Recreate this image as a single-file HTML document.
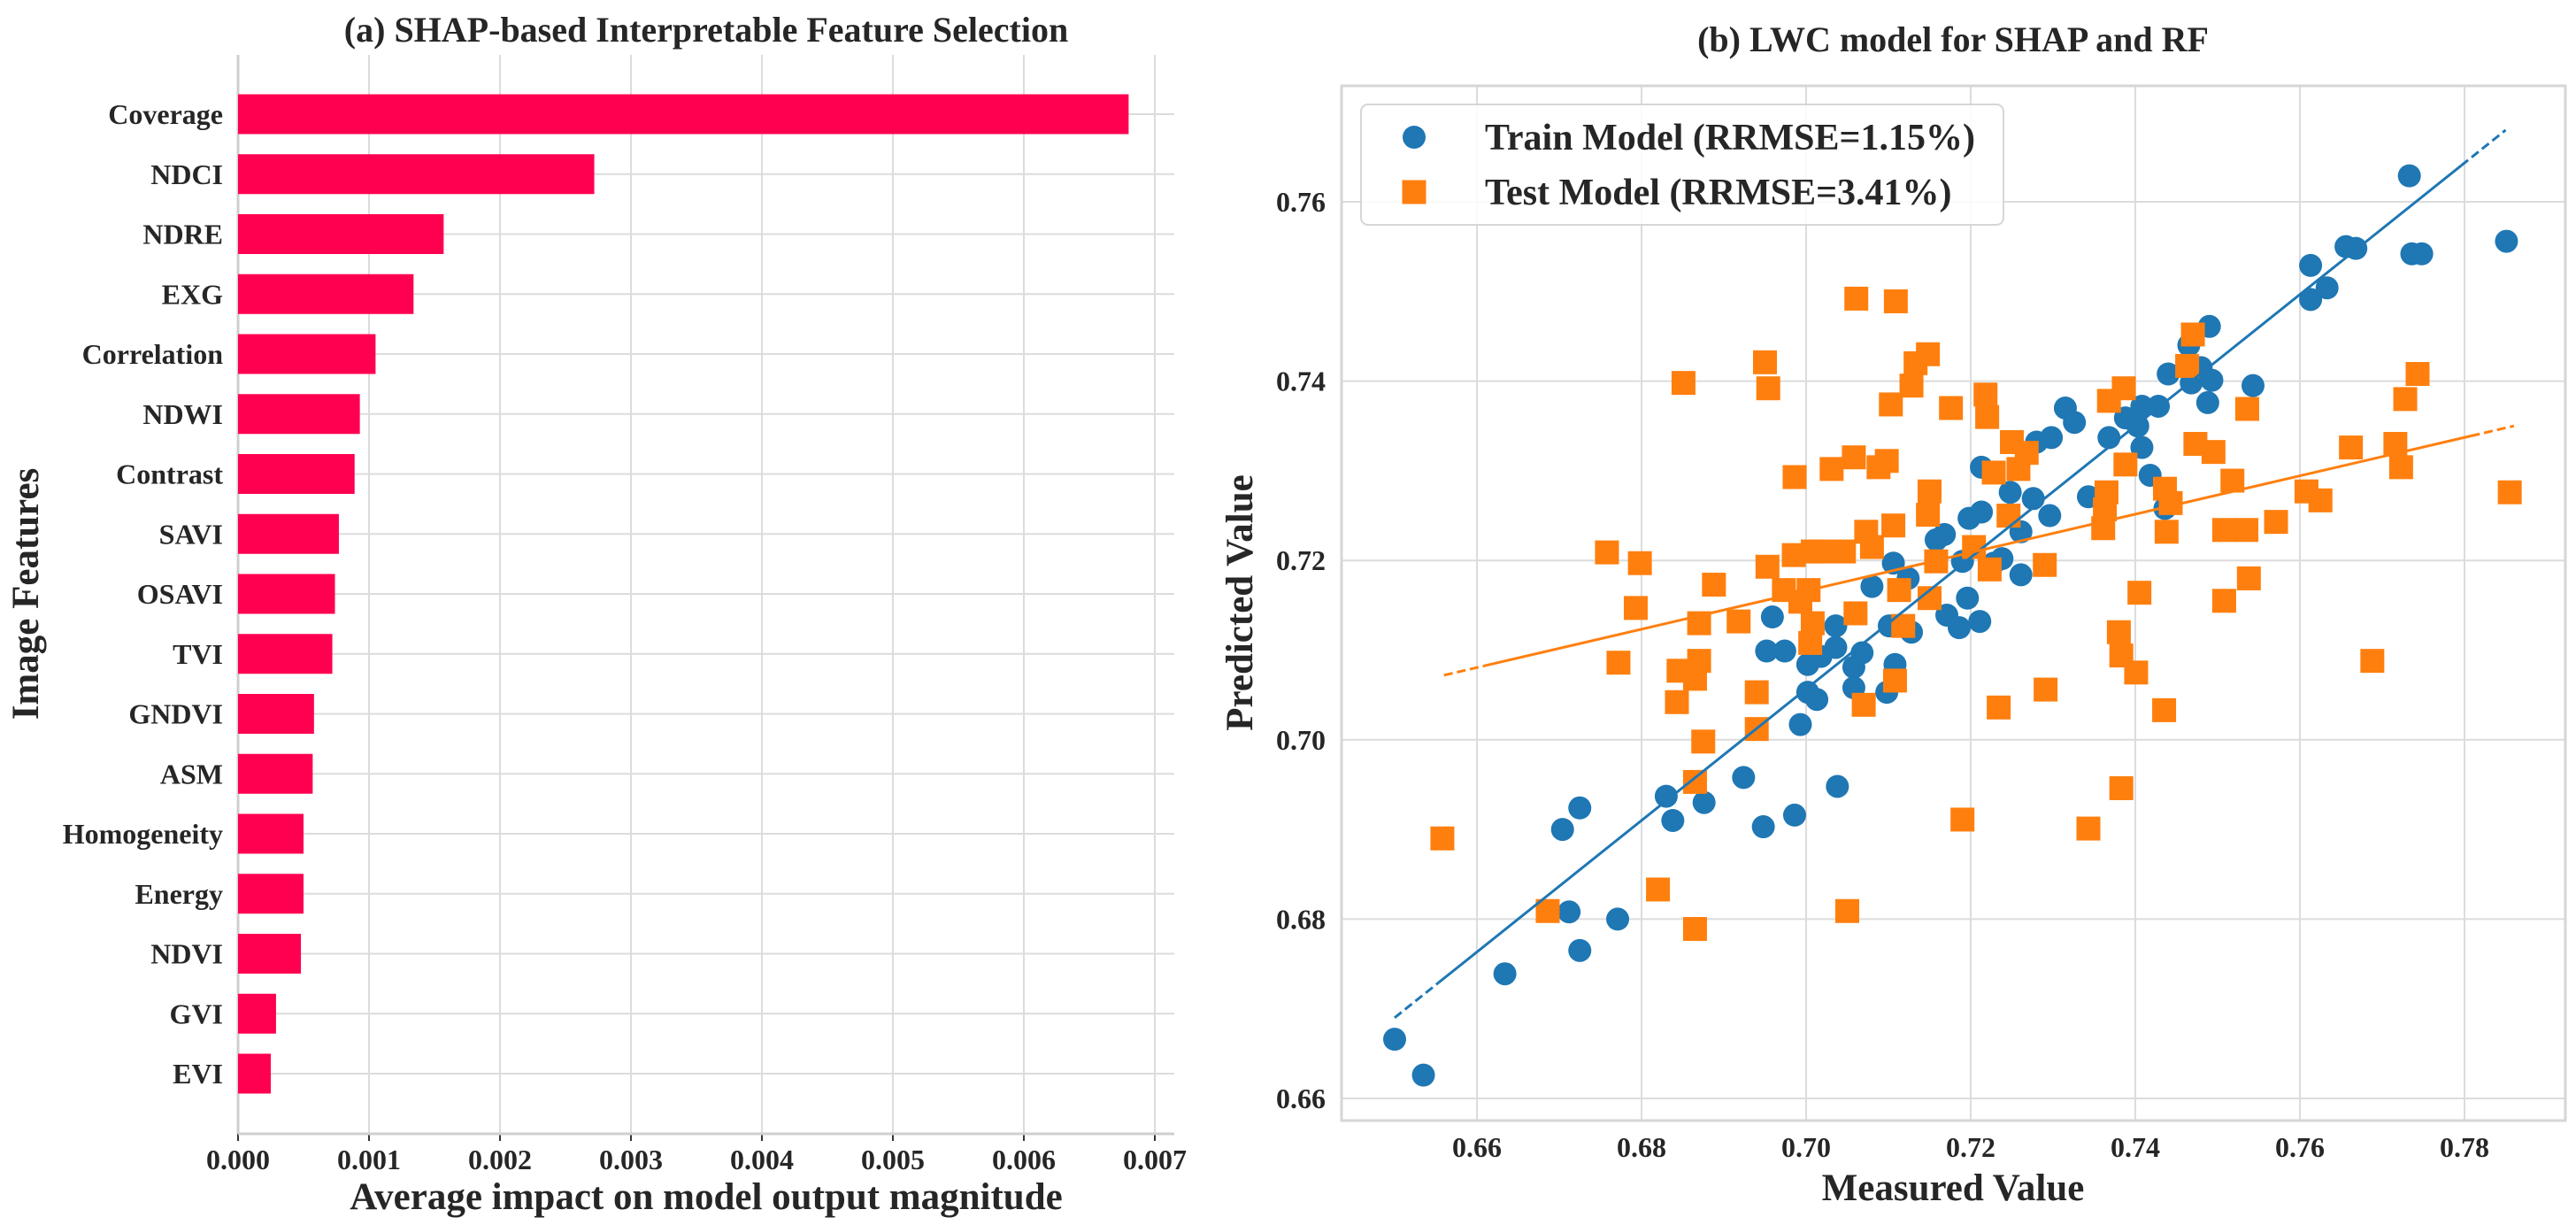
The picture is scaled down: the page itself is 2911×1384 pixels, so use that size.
<!DOCTYPE html>
<html><head><meta charset="utf-8">
<style>
html,body{margin:0;padding:0;background:#fff;}
svg{display:block;font-family:"Liberation Serif","DejaVu Serif",serif;font-weight:bold;}
</style></head>
<body>
<svg id="chart" width="2911" height="1384" viewBox="0 0 2911 1384" xmlns="http://www.w3.org/2000/svg">
<g id="left"></g>
<g id="right"></g>
</svg>
<script>
const features = ["Coverage","NDCI","NDRE","EXG","Correlation","NDWI","Contrast","SAVI","OSAVI","TVI","GNDVI","ASM","Homogeneity","Energy","NDVI","GVI","EVI"];
const shapValues = [0.0068,0.00272,0.00157,0.00134,0.00105,0.00093,0.00089,0.00077,0.00074,0.00072,0.00058,0.00057,0.0005,0.0005,0.00048,0.00029,0.00025];
const xTicksLeft = [0,0.001,0.002,0.003,0.004,0.005,0.006,0.007];
const xTickLabelsLeft = ["0.000","0.001","0.002","0.003","0.004","0.005","0.006","0.007"];

const trainX = [0.650,0.6535,0.6634,0.6704,0.6725,0.6712,0.6725,0.6771,0.683,0.6838,0.6876,0.6924,0.6948,0.6986,0.7038,0.6993,0.6959,0.6952,0.6974,0.7002,0.7013,0.7002,0.7018,0.7036,0.7036,0.7058,0.7058,0.7098,0.7108,0.7101,0.7106,0.708,0.7124,0.7128,0.7158,0.7168,0.7171,0.7186,0.7196,0.7211,0.7198,0.7213,0.7228,0.7213,0.7248,0.7261,0.7261,0.7276,0.728,0.7296,0.7298,0.7315,0.7326,0.7343,0.7368,0.7388,0.7403,0.7408,0.7408,0.7418,0.7428,0.7436,0.744,0.7465,0.7468,0.748,0.749,0.7488,0.7493,0.7543,0.7613,0.7613,0.7633,0.7656,0.7668,0.7733,0.7736,0.7748,0.7851,0.7068,0.7238,0.719];
const trainY = [0.6666,0.6626,0.6739,0.690,0.6924,0.6808,0.6765,0.680,0.6937,0.691,0.693,0.6958,0.6903,0.6916,0.6948,0.7017,0.7137,0.7099,0.7099,0.7053,0.7045,0.7084,0.7093,0.7127,0.7103,0.7081,0.7058,0.7053,0.7084,0.7127,0.7197,0.7171,0.7180,0.7120,0.7223,0.7229,0.7139,0.7125,0.7158,0.7132,0.7247,0.7254,0.7197,0.7304,0.7276,0.7184,0.7232,0.7269,0.7332,0.725,0.7337,0.737,0.7354,0.7271,0.7337,0.7359,0.735,0.7372,0.7326,0.7295,0.7372,0.7258,0.7408,0.744,0.7398,0.7415,0.7461,0.7376,0.7401,0.7395,0.7529,0.7491,0.7504,0.755,0.7548,0.7629,0.7542,0.7542,0.7556,0.7097,0.7202,0.7199];
const testX = [0.6558,0.6686,0.682,0.6865,0.6865,0.6875,0.6843,0.6845,0.6865,0.687,0.687,0.6772,0.6793,0.6758,0.6798,0.6851,0.6888,0.6918,0.694,0.694,0.6953,0.695,0.6954,0.6973,0.6985,0.6986,0.6993,0.7003,0.7008,0.7018,0.7008,0.7005,0.7031,0.7046,0.7058,0.7061,0.706,0.707,0.7073,0.708,0.7088,0.7098,0.7103,0.7109,0.7106,0.7108,0.7113,0.7118,0.7128,0.7133,0.7148,0.7148,0.715,0.7158,0.715,0.7176,0.7204,0.7218,0.722,0.7223,0.7228,0.7234,0.7246,0.725,0.7258,0.7268,0.719,0.729,0.7291,0.7343,0.7368,0.7365,0.7363,0.7361,0.7386,0.7388,0.738,0.7383,0.7383,0.7401,0.7405,0.7435,0.7436,0.7443,0.7438,0.7463,0.747,0.7473,0.7495,0.7518,0.7508,0.7535,0.7508,0.7536,0.7538,0.7571,0.7608,0.7625,0.7662,0.7688,0.7716,0.7723,0.7728,0.7743,0.7855,0.705];
const testY = [0.689,0.6809,0.6833,0.6789,0.6953,0.6998,0.7042,0.7077,0.7068,0.7088,0.713,0.7086,0.7147,0.7209,0.7197,0.7398,0.7173,0.7132,0.7053,0.7012,0.7193,0.7421,0.7392,0.7167,0.7206,0.7293,0.7154,0.7167,0.721,0.721,0.713,0.7108,0.7302,0.721,0.7315,0.7492,0.7141,0.7039,0.7232,0.7215,0.7304,0.7311,0.7374,0.7489,0.7239,0.7066,0.7167,0.7127,0.7395,0.742,0.743,0.7251,0.7277,0.7199,0.7158,0.737,0.7215,0.7385,0.736,0.719,0.7298,0.7036,0.725,0.7332,0.7302,0.732,0.6911,0.7195,0.7056,0.6901,0.7378,0.7276,0.7257,0.7236,0.7392,0.7307,0.712,0.7094,0.6946,0.7075,0.7164,0.7033,0.728,0.7264,0.7232,0.7417,0.7452,0.733,0.7321,0.7289,0.7234,0.7234,0.7155,0.7369,0.718,0.7243,0.7277,0.7267,0.7326,0.7088,0.733,0.7304,0.738,0.7408,0.7276,0.6809];
const trainFitX = [0.650,0.785];
const trainFitY = [0.669,0.768];
const testFitX = [0.656,0.786];
const testFitY = [0.7072,0.735];
const xTicksRight = [0.66,0.68,0.70,0.72,0.74,0.76,0.78];
const yTicksRight = [0.66,0.68,0.70,0.72,0.74,0.76];
const legendLabels = ["Train Model (RRMSE=1.15%)","Test Model (RRMSE=3.41%)"];

const NS="http://www.w3.org/2000/svg";
function mk(parent,tag,attrs,text){const e=document.createElementNS(NS,tag);for(const k in attrs)e.setAttribute(k,attrs[k]);if(text!==undefined)e.textContent=text;parent.appendChild(e);return e;}
const GRID="#dcdcdc", BAR="#ff0051", BLUE="#1f77b4", ORANGE="#ff7f0e", TXT="#262626";

// ---- Left chart ----
const L=document.getElementById('left');
const lx0=269, lx1=1327, lyTop=62, lyBot=1281;
const lxs=v=>lx0+v*148000;
const rowY=i=>129+i*67.75;
let t;
t=mk(L,'text',{x:798,y:47,'text-anchor':'middle','font-size':40,fill:TXT},'(a) SHAP-based Interpretable Feature Selection');

xTicksLeft.forEach((v,i)=>{
  const x=lxs(v);
  const g=mk(L,'line',{x1:x,y1:lyTop,x2:x,y2:lyBot,stroke:GRID,'stroke-width':2});
  
  const tk=mk(L,'line',{x1:x,y1:lyBot,x2:x,y2:lyBot+8,stroke:'#333','stroke-width':2});
  
  const lb=mk(L,'text',{x:x,y:lyBot+40,'text-anchor':'middle','font-size':32,fill:TXT},xTickLabelsLeft[i]);
  
});
features.forEach((f,i)=>{
  const y=rowY(i);
  const g=mk(L,'line',{x1:lx0,y1:y,x2:lx1,y2:y,stroke:GRID,'stroke-width':2});
  
});
mk(L,'line',{x1:lx0,y1:lyTop,x2:lx0,y2:lyBot,stroke:'#cfcfcf','stroke-width':3});
mk(L,'line',{x1:lx0,y1:lyBot,x2:lx1,y2:lyBot,stroke:'#cfcfcf','stroke-width':3});
features.forEach((f,i)=>{
  const y=rowY(i);
  const b=mk(L,'rect',{x:lx0,y:y-22.5,width:lxs(shapValues[i])-lx0,height:45,fill:BAR});
  
  
  const lb=mk(L,'text',{x:252,y:y+11,'text-anchor':'end','font-size':32,fill:TXT},f);
  
  
});
t=mk(L,'text',{x:798,y:1366,'text-anchor':'middle','font-size':43,fill:TXT},'Average impact on model output magnitude');

t=mk(L,'text',{x:0,y:0,'text-anchor':'middle','font-size':43,fill:TXT,transform:'translate(43,671) rotate(-90)'},'Image Features');


// ---- Right chart ----
const R=document.getElementById('right');
const rx0=1516, rx1=2899, ryTop=97, ryBot=1266;
const rxs=v=>1669+(v-0.66)*9300;
const rys=v=>1241-(v-0.66)*10130;
t=mk(R,'text',{x:2207,y:58,'text-anchor':'middle','font-size':40,fill:TXT},'(b) LWC model for SHAP and RF');

xTicksRight.forEach(v=>{
  const x=rxs(v);
  const g=mk(R,'line',{x1:x,y1:ryTop,x2:x,y2:ryBot,stroke:GRID,'stroke-width':2});
  
  const lb=mk(R,'text',{x:x,y:1307,'text-anchor':'middle','font-size':32,fill:TXT},v.toFixed(2));
  
});
yTicksRight.forEach(v=>{
  const y=rys(v);
  const g=mk(R,'line',{x1:rx0,y1:y,x2:rx1,y2:y,stroke:GRID,'stroke-width':2});
  
  const lb=mk(R,'text',{x:1498,y:y+11,'text-anchor':'end','font-size':32,fill:TXT},v.toFixed(2));
  
});
const frame=mk(R,'rect',{x:rx0,y:ryTop,width:rx1-rx0,height:ryBot-ryTop,fill:'none',stroke:'#d6d6d6','stroke-width':3});

trainX.forEach((x,i)=>{
  const c=mk(R,'circle',{cx:rxs(x),cy:rys(trainY[i]),r:13,fill:BLUE});
  
  
});
testX.forEach((x,i)=>{
  const s=mk(R,'rect',{x:rxs(x)-13.5,y:rys(testY[i])-13.5,width:27,height:27,fill:ORANGE});
  
  
});
function fit(xs,ys,col,name){
  const x0=rxs(xs[0]),y0=rys(ys[0]),x1=rxs(xs[1]),y1=rys(ys[1]);
  const f=0.04;
  const ax=x0+(x1-x0)*f, ay=y0+(y1-y0)*f, bx=x1-(x1-x0)*f, by=y1-(y1-y0)*f;
  const a=mk(R,'line',{x1:ax,y1:ay,x2:bx,y2:by,stroke:col,'stroke-width':3});
  
  
  const d1=mk(R,'line',{x1:x0,y1:y0,x2:ax,y2:ay,stroke:col,'stroke-width':3,'stroke-dasharray':'10 5'});
  
  
  const d2=mk(R,'line',{x1:bx,y1:by,x2:x1,y2:y1,stroke:col,'stroke-width':3,'stroke-dasharray':'10 5'});
  
  
}
fit(trainFitX,trainFitY,BLUE,'train-fit-line');
fit(testFitX,testFitY,ORANGE,'test-fit-line');
t=mk(R,'text',{x:2207,y:1356,'text-anchor':'middle','font-size':43,fill:TXT},'Measured Value');

t=mk(R,'text',{x:0,y:0,'text-anchor':'middle','font-size':43,fill:TXT,transform:'translate(1415,681) rotate(-90)'},'Predicted Value');

// legend
const lg=mk(R,'g',{});

mk(lg,'rect',{x:1538,y:118,width:726,height:136,rx:8,fill:'rgba(255,255,255,0.85)',stroke:'#d6d6d6','stroke-width':2});
const e1=mk(lg,'circle',{cx:1598,cy:155,r:13,fill:BLUE});

const e2=mk(lg,'rect',{x:1584.5,y:203.5,width:27,height:27,fill:ORANGE});

const l1=mk(lg,'text',{x:1678,y:169,'font-size':42,fill:TXT},legendLabels[0]);

const l2=mk(lg,'text',{x:1678,y:231,'font-size':42,fill:TXT},legendLabels[1]);

</script>
</body></html>
